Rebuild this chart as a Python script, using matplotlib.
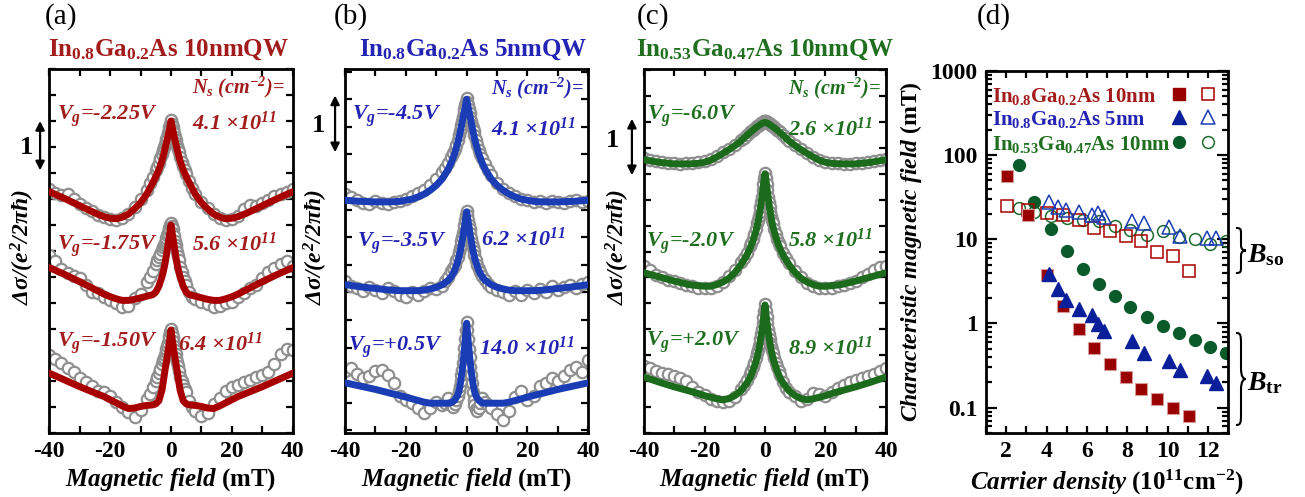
import matplotlib.pyplot as plt
import numpy as np
from matplotlib.path import Path
from matplotlib.patches import PathPatch
from matplotlib.transforms import blended_transform_factory
from matplotlib.ticker import MultipleLocator, FuncFormatter, LogLocator, NullFormatter

plt.rcParams['font.family'] = 'Liberation Serif'
plt.rcParams['font.weight'] = 'bold'
plt.rcParams['mathtext.fontset'] = 'custom'
plt.rcParams['mathtext.rm'] = 'Liberation Serif:bold:italic'
plt.rcParams['mathtext.it'] = 'Liberation Serif:bold:italic'
plt.rcParams['mathtext.bf'] = 'Liberation Serif:bold'
plt.rcParams['axes.unicode_minus'] = False

# ---------------- panels (a)-(c): fits (half curves, symmetric in B) ----------------
B_fit = [0, 0.5, 1, 1.5, 2, 2.5, 3, 4, 5, 6, 8, 10, 12, 14, 16, 18, 20, 22, 25, 30, 35, 40]

fit_a1 = [6.00, 5.85, 5.71, 5.58, 5.46, 5.34, 5.23, 5.06, 4.93, 4.81, 4.59, 4.43, 4.31, 4.21, 4.15, 4.12, 4.13, 4.16, 4.23, 4.37, 4.51, 4.64]
fit_a2 = [4.00, 3.80, 3.62, 3.42, 3.25, 3.11, 3.00, 2.82, 2.71, 2.66, 2.63, 2.60, 2.57, 2.55, 2.55, 2.58, 2.62, 2.67, 2.76, 2.91, 3.05, 3.18]
fit_a3 = [1.98, 1.76, 1.56, 1.38, 1.20, 1.00, 0.82, 0.62, 0.56, 0.54, 0.53, 0.51, 0.48, 0.47, 0.52, 0.58, 0.64, 0.70, 0.77, 0.89, 1.02, 1.15]

fit_b1 = [6.00, 5.85, 5.72, 5.58, 5.44, 5.31, 5.20, 5.01, 4.86, 4.74, 4.56, 4.44, 4.35, 4.28, 4.23, 4.19, 4.17, 4.15, 4.14, 4.14, 4.15, 4.17]
fit_b2 = [3.96, 3.78, 3.60, 3.43, 3.28, 3.15, 3.05, 2.89, 2.79, 2.72, 2.64, 2.59, 2.56, 2.54, 2.53, 2.53, 2.53, 2.53, 2.54, 2.57, 2.60, 2.64]
fit_b3 = [1.94, 1.62, 1.32, 1.07, 0.87, 0.72, 0.63, 0.54, 0.50, 0.49, 0.49, 0.49, 0.49, 0.51, 0.54, 0.57, 0.60, 0.63, 0.67, 0.74, 0.80, 0.86]

fit_c1 = [5.99, 5.98, 5.97, 5.95, 5.93, 5.91, 5.89, 5.84, 5.79, 5.74, 5.63, 5.54, 5.46, 5.39, 5.32, 5.26, 5.22, 5.20, 5.19, 5.19, 5.22, 5.27]
fit_c2 = [5.00, 4.80, 4.56, 4.34, 4.16, 4.01, 3.89, 3.70, 3.55, 3.43, 3.24, 3.09, 2.98, 2.91, 2.86, 2.83, 2.83, 2.84, 2.86, 2.93, 3.01, 3.09]
fit_c3 = [2.47, 2.20, 1.97, 1.78, 1.61, 1.48, 1.37, 1.20, 1.06, 0.96, 0.81, 0.72, 0.66, 0.64, 0.66, 0.69, 0.72, 0.76, 0.81, 0.89, 0.98, 1.08]

# ---------------- panels (a)-(c): measured points ----------------
B_data = [-40, -38, -36, -34, -32, -30, -28, -26, -24, -22, -20, -18, -16, -14, -12, -10, -8,
          -7, -6, -5, -4.5, -4, -3.5, -3,
          -2.5, -2.25, -2, -1.75, -1.5, -1.25, -1, -0.75, -0.5, -0.25, 0,
          0.25, 0.5, 0.75, 1, 1.25, 1.5, 1.75, 2, 2.25, 2.5,
          3, 3.5, 4, 4.5, 5, 6, 7,
          8, 10, 12, 14, 16, 18, 20, 22, 24, 26, 28, 30, 32, 34, 36, 38, 40]

data_a1 = [4.70, 4.62, 4.58, 4.60, 4.50, 4.40, 4.33, 4.27, 4.20, 4.15, 4.12, 4.10, 4.14, 4.22, 4.35, 4.50, 4.68,
           4.80, 4.92, 5.05, 5.12, 5.20, 5.28, 5.36,
           5.45, 5.50, 5.55, 5.60, 5.65, 5.70, 5.76, 5.82, 5.88, 5.95, 6.02,
           5.95, 5.88, 5.82, 5.76, 5.70, 5.64, 5.58, 5.52, 5.46, 5.40,
           5.30, 5.22, 5.14, 5.06, 4.98, 4.85, 4.72,
           4.60, 4.45, 4.32, 4.22, 4.14, 4.10, 4.12, 4.18, 4.30, 4.38, 4.36, 4.42, 4.48, 4.55, 4.60, 4.64, 4.70]
data_a2 = [3.42, 3.30, 3.15, 3.08, 3.02, 2.98, 2.85, 2.72, 2.70, 2.62, 2.55, 2.50, 2.42, 2.45, 2.60, 2.68, 2.90,
           3.00, 3.12, 3.25, 3.32, 3.38, 3.45, 3.52,
           3.58, 3.62, 3.66, 3.70, 3.75, 3.80, 3.85, 3.90, 3.95, 4.00, 4.03,
           3.98, 3.92, 3.85, 3.78, 3.70, 3.62, 3.55, 3.48, 3.40, 3.33,
           3.20, 3.10, 3.00, 2.92, 2.85, 2.72, 2.62,
           2.58, 2.52, 2.48, 2.42, 2.45, 2.50, 2.52, 2.62, 2.70, 2.78, 2.85, 2.98, 3.10, 3.18, 3.25, 3.30, 3.22]
data_a3 = [1.50, 1.42, 1.35, 1.25, 1.18, 1.05, 0.98, 0.90, 0.80, 0.78, 0.72, 0.60, 0.50, 0.40, 0.30, 0.45, 0.65,
           0.75, 0.88, 1.00, 1.08, 1.16, 1.24, 1.32,
           1.40, 1.45, 1.50, 1.56, 1.62, 1.68, 1.74, 1.80, 1.87, 1.94, 2.00,
           1.92, 1.84, 1.76, 1.68, 1.60, 1.52, 1.44, 1.36, 1.28, 1.20,
           1.08, 1.00, 0.92, 0.85, 0.78, 0.62, 0.50,
           0.42, 0.33, 0.38, 0.55, 0.68, 0.80, 0.88, 0.92, 0.98, 1.02, 1.08, 1.12, 1.18, 1.32, 1.52, 1.62, 1.60]

data_b1 = [4.28, 4.22, 4.18, 4.12, 4.10, 4.16, 4.12, 4.10, 4.14, 4.16, 4.20, 4.24, 4.30, 4.36, 4.44, 4.55, 4.68,
           4.75, 4.84, 4.95, 5.02, 5.10, 5.18, 5.27,
           5.36, 5.42, 5.48, 5.54, 5.61, 5.68, 5.75, 5.82, 5.89, 5.96, 6.02,
           5.96, 5.89, 5.82, 5.75, 5.68, 5.61, 5.54, 5.48, 5.42, 5.36,
           5.26, 5.17, 5.09, 5.01, 4.94, 4.82, 4.72,
           4.62, 4.48, 4.38, 4.30, 4.24, 4.20, 4.18, 4.14, 4.16, 4.12, 4.16, 4.14, 4.12, 4.15, 4.18, 4.14, 4.16]
data_b2 = [2.70, 2.62, 2.58, 2.52, 2.60, 2.55, 2.48, 2.58, 2.52, 2.45, 2.42, 2.50, 2.46, 2.52, 2.58, 2.56, 2.62,
           2.70, 2.78, 2.88, 2.94, 3.00, 3.08, 3.15,
           3.24, 3.30, 3.36, 3.43, 3.50, 3.58, 3.65, 3.73, 3.82, 3.90, 3.98,
           3.90, 3.82, 3.73, 3.65, 3.57, 3.48, 3.40, 3.32, 3.25, 3.18,
           3.08, 3.00, 2.92, 2.86, 2.80, 2.72, 2.66,
           2.60, 2.55, 2.50, 2.45, 2.52, 2.46, 2.54, 2.48, 2.56, 2.50, 2.62, 2.55, 2.60, 2.64, 2.58, 2.66, 2.68]
data_b3 = [1.08, 1.12, 1.02, 0.95, 0.98, 1.08, 1.10, 1.00, 0.85, 0.62, 0.55, 0.50, 0.40, 0.32, 0.40, 0.52, 0.45,
           0.50, 0.58, 0.45, 0.42, 0.48, 0.55, 0.62,
           0.72, 0.80, 0.90, 1.00, 1.10, 1.22, 1.35, 1.50, 1.65, 1.82, 1.96,
           1.82, 1.65, 1.48, 1.32, 1.15, 1.00, 0.85, 0.70, 0.55, 0.45,
           0.38, 0.35, 0.40, 0.50, 0.58, 0.52, 0.45,
           0.40, 0.30, 0.18, 0.35, 0.60, 0.72, 0.55, 0.62, 0.80, 0.85, 0.95, 0.90, 0.98, 1.10, 1.15, 1.05, 1.28]

data_c1 = [5.30, 5.26, 5.24, 5.22, 5.21, 5.20, 5.19, 5.20, 5.21, 5.22, 5.24, 5.28, 5.34, 5.41, 5.48, 5.56, 5.65,
           5.69, 5.75, 5.80, 5.82, 5.85, 5.87, 5.90,
           5.92, 5.93, 5.94, 5.95, 5.96, 5.97, 5.98, 5.99, 6.00, 6.01, 6.01,
           6.01, 6.00, 5.99, 5.98, 5.97, 5.96, 5.95, 5.94, 5.93, 5.92,
           5.90, 5.87, 5.85, 5.82, 5.80, 5.75, 5.69,
           5.64, 5.55, 5.47, 5.40, 5.33, 5.27, 5.23, 5.21, 5.20, 5.19, 5.19, 5.20, 5.21, 5.22, 5.24, 5.26, 5.29]
data_c2 = [3.22, 3.15, 3.05, 3.00, 2.96, 2.93, 2.90, 2.86, 2.83, 2.80, 2.79, 2.80, 2.84, 2.92, 3.02, 3.14, 3.30,
           3.38, 3.48, 3.60, 3.67, 3.75, 3.84, 3.94,
           4.05, 4.11, 4.18, 4.26, 4.36, 4.46, 4.56, 4.68, 4.80, 4.92, 5.02,
           4.92, 4.80, 4.68, 4.56, 4.46, 4.36, 4.26, 4.18, 4.11, 4.05,
           3.94, 3.84, 3.75, 3.67, 3.60, 3.48, 3.38,
           3.28, 3.12, 3.00, 2.90, 2.84, 2.80, 2.79, 2.80, 2.83, 2.86, 2.90, 2.94, 3.00, 3.06, 3.14, 3.20, 3.22]
data_c3 = [1.30, 1.26, 1.20, 1.15, 1.14, 1.10, 1.06, 1.00, 0.88, 0.80, 0.74, 0.66, 0.62, 0.60, 0.62, 0.70, 0.85,
           0.93, 1.02, 1.14, 1.20, 1.27, 1.35, 1.44,
           1.54, 1.60, 1.67, 1.74, 1.82, 1.91, 2.01, 2.12, 2.24, 2.36, 2.48,
           2.36, 2.24, 2.12, 2.01, 1.91, 1.82, 1.74, 1.67, 1.60, 1.54,
           1.44, 1.35, 1.27, 1.20, 1.12, 0.98, 0.86,
           0.80, 0.72, 0.62, 0.66, 0.78, 0.75, 0.72, 0.80, 0.86, 0.92, 0.98, 1.02, 1.06, 1.10, 1.14, 1.20, 1.26]

vg_a = ['-2.25V', '-1.75V', '-1.50V']
ns_a = ['4.1', '5.6', '6.4']
vg_b = ['-4.5V', '-3.5V', '+0.5V']
ns_b = ['4.1', '6.2', '14.0']
vg_c = ['-6.0V', '-2.0V', '+2.0V']
ns_c = ['2.6', '5.8', '8.9']

# ---------------- panel (d): characteristic fields ----------------
sq_x = [2.03, 3.10, 4.02, 4.80, 5.59, 6.37, 7.13, 7.93, 8.70, 9.49, 10.29, 11.06]
sq_btr = [57, 19.2, 3.8, 1.6, 0.85, 0.51, 0.33, 0.23, 0.168, 0.126, 0.099, 0.079]
sq_bso = [25, 22, 20.5, 19.5, 17, 13.6, 12.7, 11.0, 9.6, 7.0, 6.3, 4.2]

tri_x = [4.12, 4.57, 4.98, 5.63, 6.24, 6.56, 6.86, 8.25, 8.82, 10.06, 10.60, 11.98, 12.39]
tri_btr = [3.9, 2.6, 1.9, 1.5, 1.25, 0.99, 0.81, 0.62, 0.44, 0.36, 0.28, 0.24, 0.194]
tri_bso = [28, 24, 22, 21.2, 19.5, 20.8, 18.4, 16.6, 15.6, 14.0, 11.0, 10.4, 10.4]

ci_x = [2.61, 3.40, 4.20, 4.99, 5.79, 6.59, 7.39, 8.16, 8.98, 9.78, 10.57, 11.34, 12.13, 12.90]
ci_btr = [77, 28, 13.2, 7.2, 4.47, 2.98, 2.1, 1.55, 1.19, 0.94, 0.77, 0.63, 0.53, 0.45]
ci_bso = [23.5, 21.2, 18.7, 17.9, 17.1, 16.3, 14.2, 12.9, 11.3, 12.4, 10.6, 10.0, 8.8, 9.6]

RED, BLUE, GREEN = '#a80000', '#1a3cb4', '#1c6a1c'
RED_T, BLUE_T, GREEN_T = '#a31c1c', '#2424b4', '#1f6f1f'
BOLD = dict(fontweight='bold')

W, H = 1305, 497
fig = plt.figure(figsize=(W / 100, H / 100), dpi=100)


def full(half):
    return half[:0:-1] + half


B_full = [-b for b in B_fit[:0:-1]] + B_fit


def style(ax):
    ax.tick_params(which='both', direction='in', top=True, right=True, width=1.6,
                   length=5, labelsize=17, pad=6)
    for s in ax.spines.values():
        s.set_linewidth(2)


def bold_ticks(ax):
    for lab in ax.get_xticklabels() + ax.get_yticklabels():
        lab.set_fontweight('bold')


panels = [
    ([0.0378, 0.1288, 0.1865, 0.7324], (0, 7.0), RED, RED_T,
     [fit_a1, fit_a2, fit_a3], [data_a1, data_a2, data_a3], vg_a, ns_a,
     r'$\mathbf{In_{0.8}Ga_{0.2}As\ 10nmQW}$', 169, '(a)', 61),
    ([0.2644, 0.1288, 0.1864, 0.7324], (-0.05, 6.55), BLUE, BLUE_T,
     [fit_b1, fit_b2, fit_b3], [data_b1, data_b2, data_b3], vg_b, ns_b,
     r'$\mathbf{In_{0.8}Ga_{0.2}As\ 5nmQW}$', 473, '(b)', 351),
    ([0.4935, 0.1288, 0.1854, 0.7324], (0, 7.02), GREEN, GREEN_T,
     [fit_c1, fit_c2, fit_c3], [data_c1, data_c2, data_c3], vg_c, ns_c,
     r'$\mathbf{In_{0.53}Ga_{0.47}As\ 10nmQW}$', 765, '(c)', 653),
]

# text placements (data coords) per panel
vg_pos = [[(-37.6, 6.02), (-37.6, 3.51), (-37.6, 1.65)],
          [(-37.8, 5.62), (-36.2, 3.32), (-38.9, 1.43)],
          [(-39.1, 6.03), (-39.4, 3.58), (-39.4, 1.67)]]
ns_pos = [[(6.8, 5.83), (6.8, 3.51), (2.4, 1.59)],
          [(8.0, 5.34), (4.6, 3.35), (4.1, 1.37)],
          [(7.7, 5.74), (7.7, 3.59), (7.7, 1.51)]]
head_pos = [(6.8, 6.54), (8.0, 6.10), (7.7, 6.54)]
bar = [(-0.038, 5.05, 6.0, 27, 147), (-0.041, 5.04, 6.07, 318, 125), (-0.05, 4.97, 6.06, 613, 140)]
ylab_x = [-0.05, -0.062, -0.05]

for i, (rect, ylim, col, tcol, fits, datas, vgs, nss, title, tx, tag, tagx) in enumerate(panels):
    ax = fig.add_axes(rect)
    for d, f in zip(datas, fits):
        ax.plot(B_data, d, 'o', ms=8.2, mfc='white', mec='#8f8f8f', mew=1.6, zorder=2)
        ax.plot(B_full, full(f), '-', color=col, lw=5, solid_capstyle='round', zorder=3)
    ax.set_xlim(-40, 40)
    ax.set_ylim(*ylim)
    ax.xaxis.set_major_locator(MultipleLocator(20))
    ax.xaxis.set_minor_locator(MultipleLocator(10))
    ax.yaxis.set_major_locator(MultipleLocator(0.5))
    style(ax)
    ax.tick_params(labelleft=False)
    bold_ticks(ax)
    ax.set_xlabel(r'$\mathit{Magnetic\ field}$ (mT)', fontsize=18, **BOLD)
    ax.xaxis.set_label_coords(0.5, -0.09)
    ax.set_ylabel(r'$\Delta\sigma/(e^2/2\pi\hbar)$', fontsize=17, **BOLD)
    ax.yaxis.set_label_coords(ylab_x[i], 0.51)

    for (x, y), v in zip(vg_pos[i], vgs):
        ax.text(x, y, r'$V_g$=' + v, color=tcol, fontsize=16, style='italic', va='baseline', **BOLD)
    for (x, y), n in zip(ns_pos[i], nss):
        ax.text(x, y, n + r' ×10$^{11}$', color=tcol, fontsize=16, style='italic', va='baseline', **BOLD)
    ax.text(*head_pos[i], r'N$_s$ (cm$^{-2}$)=', color=tcol, fontsize=14.5, style='italic',
            va='baseline', **BOLD)

    bx, y0, y1, lx, ly = bar[i]
    tr = blended_transform_factory(ax.transAxes, ax.transData)
    ax.annotate('', xy=(bx, y1), xytext=(bx, y0), xycoords=tr, textcoords=tr,
                annotation_clip=False,
                arrowprops=dict(arrowstyle='<|-|>', color='k', lw=1.6, mutation_scale=13,
                                shrinkA=0, shrinkB=0))
    fig.text(lx / W, 1 - ly / H, '1', fontsize=19, ha='center', va='center', **BOLD)

    fig.text(tx / W, 1 - 56 / H, title, color=tcol, fontsize=18, ha='center', va='baseline')
    fig.text(tagx / W, 1 - 17 / H, tag, fontsize=21, fontweight='normal', ha='center', va='center')

# ---------------- panel (d) ----------------
ax4 = fig.add_axes([0.7556, 0.1288, 0.1854, 0.7284])
ax4.plot(ci_x, ci_bso, 'o', ms=8.5, mfc='none', mec='#1e6b2e', mew=1.1, zorder=2)
ax4.plot(sq_x, sq_bso, 's', ms=8.5, mfc='none', mec='#a80000', mew=1.1, zorder=3)
ax4.plot(tri_x, tri_bso, '^', ms=9.5, mfc='none', mec='#1a3cb4', mew=1.1, zorder=4)
ax4.plot(ci_x, ci_btr, 'o', ms=8.5, mfc='#0b5a2a', mec='#0b5a2a', zorder=2)
ax4.plot(sq_x, sq_btr, 's', ms=8.5, mfc='#990000', mec='#d49a9a', mew=0.8, zorder=3)
ax4.plot(tri_x, tri_btr, '^', ms=9.5, mfc='#0a1f99', mec='#0a1f99', zorder=4)
ax4.set_yscale('log')
ax4.set_xlim(1, 13)
ax4.set_ylim(0.05, 1000)
ax4.xaxis.set_major_locator(MultipleLocator(2))
ax4.xaxis.set_minor_locator(MultipleLocator(1))
ax4.yaxis.set_major_locator(LogLocator(base=10, numticks=10))
ax4.yaxis.set_minor_locator(LogLocator(base=10, subs=[2, 3, 4, 5, 6, 7, 8, 9], numticks=20))
ax4.yaxis.set_major_formatter(FuncFormatter(lambda v, p: '%g' % v))
ax4.yaxis.set_minor_formatter(NullFormatter())
style(ax4)
ax4.tick_params(which='major', axis='y', length=8)
ax4.tick_params(which='minor', axis='y', length=4)
bold_ticks(ax4)
ax4.set_xlabel(r'$\mathit{Carrier\ density}$ (10$^{\mathbf{11}}$cm$^{\mathbf{-2}}$)', fontsize=18, **BOLD)
ax4.xaxis.set_label_coords(0.5, -0.095)
ax4.set_ylabel(r'$\mathit{Characteristic\ magnetic\ field}$ (mT)', fontsize=17, **BOLD)
ax4.yaxis.set_label_coords(-0.256, 0.5)
fig.text(994 / W, 1 - 17 / H, '(d)', fontsize=21, fontweight='normal', ha='center', va='center')

# legend: coloured names with filled/open keys
leg_names = [r'In$_{\mathbf{0.8}}$Ga$_{\mathbf{0.2}}$As 10nm', r'In$_{\mathbf{0.8}}$Ga$_{\mathbf{0.2}}$As 5nm',
             r'In$_{\mathbf{0.53}}$Ga$_{\mathbf{0.47}}$As 10nm']
leg_cols = [RED_T, BLUE_T, GREEN_T]
leg_y = [0.914, 0.851, 0.782]
leg_keys = [('s', '#990000', '#a80000', 8.5), ('^', '#0a1f99', '#1a3cb4', 9.5), ('o', '#0b5a2a', '#1e6b2e', 8.5)]
for name, c, y, (m, fc, ec, ms) in zip(leg_names, leg_cols, leg_y, leg_keys):
    ax4.text(0.024, y, name, transform=ax4.transAxes, color=c, fontsize=15, va='baseline', **BOLD)
    ax4.plot([0.799], [y + 0.022], m, ms=ms, mfc=fc, mec=fc, transform=ax4.transAxes, clip_on=False)
    ax4.plot([0.919], [y + 0.022], m, ms=ms, mfc='none', mec=ec, mew=1.1,
             transform=ax4.transAxes, clip_on=False)


# curly braces for B_so / B_tr
def brace(x0, top, bot, w):
    h = bot - top
    ym = (top + bot) / 2
    xm = x0 + w * 0.5
    pts = [(x0, top), (x0 + w * 0.45, top), (xm, top + 0.02 * h), (xm, top + 0.12 * h),
           (xm, ym - 0.12 * h),
           (xm, ym - 0.02 * h), (x0 + w * 0.75, ym), (x0 + w, ym),
           (x0 + w * 0.75, ym), (xm, ym + 0.02 * h), (xm, ym + 0.12 * h),
           (xm, bot - 0.12 * h),
           (xm, bot - 0.02 * h), (x0 + w * 0.45, bot), (x0, bot)]
    codes = [Path.MOVETO, Path.CURVE4, Path.CURVE4, Path.CURVE4, Path.LINETO,
             Path.CURVE4, Path.CURVE4, Path.CURVE4, Path.CURVE4, Path.CURVE4, Path.CURVE4,
             Path.LINETO, Path.CURVE4, Path.CURVE4, Path.CURVE4]
    verts = [(px / 100, (H - py) / 100) for px, py in pts]
    fig.add_artist(PathPatch(Path(verts, codes), fill=False, lw=1.5, color='k',
                             transform=fig.dpi_scale_trans))


brace(1236, 228, 273, 10)
brace(1236, 333, 425, 10)
fig.text(1247 / W, 1 - 262 / H, r'$B_{\mathbf{so}}$', fontsize=20, va='baseline')
fig.text(1247 / W, 1 - 390 / H, r'$B_{\mathbf{tr}}$', fontsize=20, va='baseline')

fig.savefig('out.png', dpi=100)
